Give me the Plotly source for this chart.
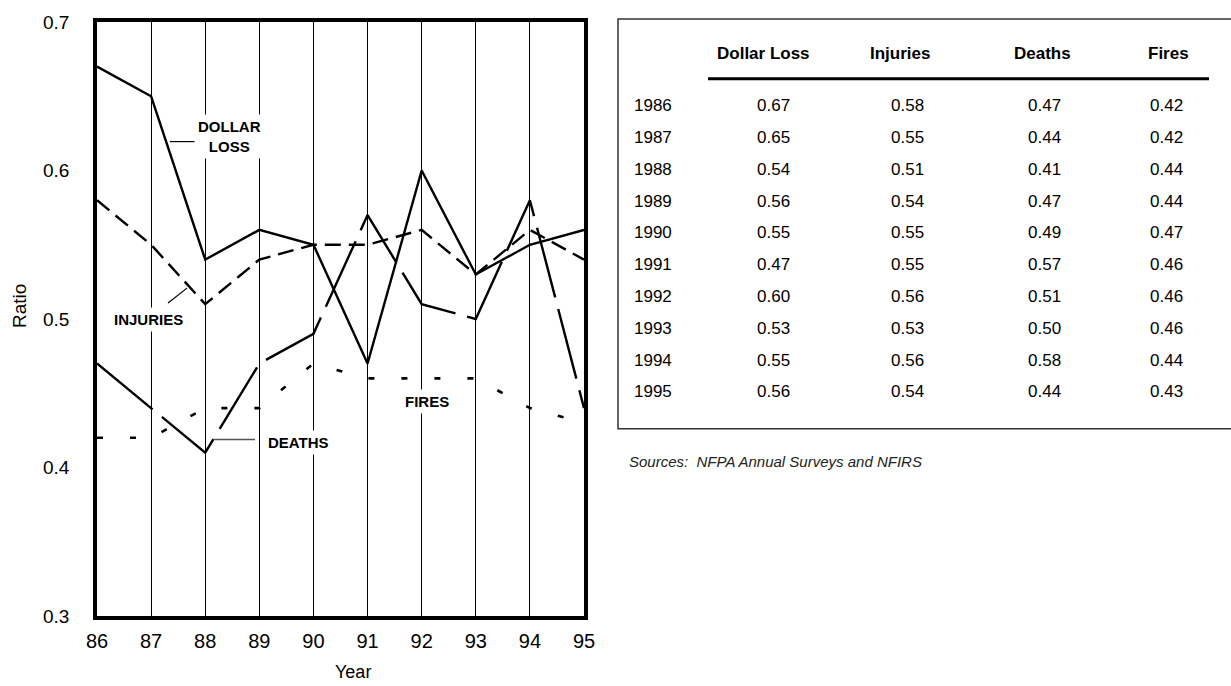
import plotly.graph_objects as go

# ---- data ----
years = [86, 87, 88, 89, 90, 91, 92, 93, 94, 95]
year_ticks = ["86", "87", "88", "89", "90", "91", "92", "93", "94", "95"]
year_labels = ["1986", "1987", "1988", "1989", "1990", "1991", "1992", "1993", "1994", "1995"]
dollar_loss = [0.67, 0.65, 0.54, 0.56, 0.55, 0.47, 0.60, 0.53, 0.55, 0.56]
injuries = [0.58, 0.55, 0.51, 0.54, 0.55, 0.55, 0.56, 0.53, 0.56, 0.54]
deaths = [0.47, 0.44, 0.41, 0.47, 0.49, 0.57, 0.51, 0.50, 0.58, 0.44]
fires = [0.42, 0.42, 0.44, 0.44, 0.47, 0.46, 0.46, 0.46, 0.44, 0.43]
columns = ["Dollar Loss", "Injuries", "Deaths", "Fires"]
y_ticks = [0.3, 0.4, 0.5, 0.6, 0.7]

FONT = "Liberation Sans, Arial, Helvetica, sans-serif"
W, H = 1231, 686
L, R, T, B = 97, 584, 20, 616


def px(x):
    return (x - L) / (R - L)


def py(y):
    return (B - y) / (B - T)


fig = go.Figure()
fig.add_trace(go.Scatter(x=years, y=fires, mode="lines", name="Fires",
                         line=dict(color="black", width=2.6, dash="6px,27px")))
fig.add_trace(go.Scatter(x=years, y=deaths, mode="lines", name="Deaths",
                         line=dict(color="black", width=2.4, dash="72px,12px")))
fig.add_trace(go.Scatter(x=years, y=injuries, mode="lines", name="Injuries",
                         line=dict(color="black", width=2.4, dash="16px,8px")))
fig.add_trace(go.Scatter(x=years, y=dollar_loss, mode="lines", name="Dollar Loss",
                         line=dict(color="black", width=2.4)))

annotations = []
shapes = []


def label(text, x, y):
    annotations.append(dict(text="<b>%s</b>" % text, x=px(x), y=py(y), xref="paper", yref="paper",
                            showarrow=False, xanchor="center", yanchor="middle",
                            font=dict(family=FONT, size=15, color="black"),
                            bgcolor="white", borderpad=3))


label("DOLLAR<br>LOSS", 229, 135)
label("INJURIES", 148, 318)
label("DEATHS", 298, 442)
label("FIRES", 427, 401)


def seg(x0, y0, x1, y1, color="black", width=1.2):
    shapes.append(dict(type="line", xref="paper", yref="paper",
                       x0=px(x0), y0=py(y0), x1=px(x1), y1=py(y1),
                       line=dict(color=color, width=width)))


seg(170, 140, 201, 140)
seg(168, 302, 187, 287)
seg(213, 439, 255, 439, color="#555555", width=1.5)

# axis titles
annotations.append(dict(text="Ratio", x=px(19), y=py(305), xref="paper", yref="paper",
                        showarrow=False, textangle=-90, xanchor="center", yanchor="middle",
                        font=dict(family=FONT, size=19, color="black")))
annotations.append(dict(text="Year", x=px(353), y=py(672), xref="paper", yref="paper",
                        showarrow=False, xanchor="center", yanchor="middle",
                        font=dict(family=FONT, size=18, color="black")))

# table
header_x = [763, 900, 1042, 1168]
value_x = [773, 907, 1044, 1166]
series = [dollar_loss, injuries, deaths, fires]
for cx, name in zip(header_x, columns):
    annotations.append(dict(text="<b>%s</b>" % name, x=px(cx), y=py(52), xref="paper", yref="paper",
                            showarrow=False, xanchor="center", yanchor="middle",
                            font=dict(family=FONT, size=17, color="black")))
row_y0, row_dy = 104, 31.9
for i, yl in enumerate(year_labels):
    ry = row_y0 + i * row_dy
    annotations.append(dict(text=yl, x=px(632), y=py(ry), xref="paper", yref="paper",
                            showarrow=False, xanchor="left", yanchor="middle",
                            font=dict(family=FONT, size=17, color="black")))
    for cx, s in zip(value_x, series):
        annotations.append(dict(text="%.2f" % s[i], x=px(cx), y=py(ry), xref="paper", yref="paper",
                                showarrow=False, xanchor="center", yanchor="middle",
                                font=dict(family=FONT, size=17, color="black")))

seg(708, 77, 1209, 77, width=3)
shapes.append(dict(type="rect", xref="paper", yref="paper",
                   x0=px(618), y0=py(17), x1=px(1245), y1=py(428),
                   line=dict(color="#333333", width=1.5)))
annotations.append(dict(text="<i>Sources:\u00a0 NFPA Annual Surveys and NFIRS</i>", x=px(627), y=py(461),
                        xref="paper", yref="paper", showarrow=False, xanchor="left", yanchor="middle",
                        font=dict(family=FONT, size=15, color="#222222")))

fig.update_layout(
    width=W, height=H,
    margin=dict(l=L, r=W - R, t=T, b=H - B, pad=0),
    paper_bgcolor="white", plot_bgcolor="white",
    showlegend=False,
    font=dict(family=FONT, size=20, color="black"),
    annotations=annotations, shapes=shapes,
    xaxis=dict(range=[86, 95], tickvals=years, ticktext=year_ticks,
               showgrid=True, gridcolor="black", gridwidth=1,
               showline=True, linecolor="black", linewidth=3.5, mirror=True,
               ticks="", zeroline=False, ticklabelstandoff=4,
               tickfont=dict(family=FONT, size=20, color="black")),
    yaxis=dict(range=[0.3, 0.7], tickvals=y_ticks, ticktext=["%.1f" % v for v in y_ticks],
               showgrid=False, showline=True, linecolor="black", linewidth=3.5, mirror=True,
               ticks="", zeroline=False, ticklabelstandoff=20,
               tickfont=dict(family=FONT, size=19, color="black")),
)

fig.write_html("out.html", config={"displayModeBar": False},
               post_script="document.body.style.margin='0';document.body.style.overflow='hidden';")
